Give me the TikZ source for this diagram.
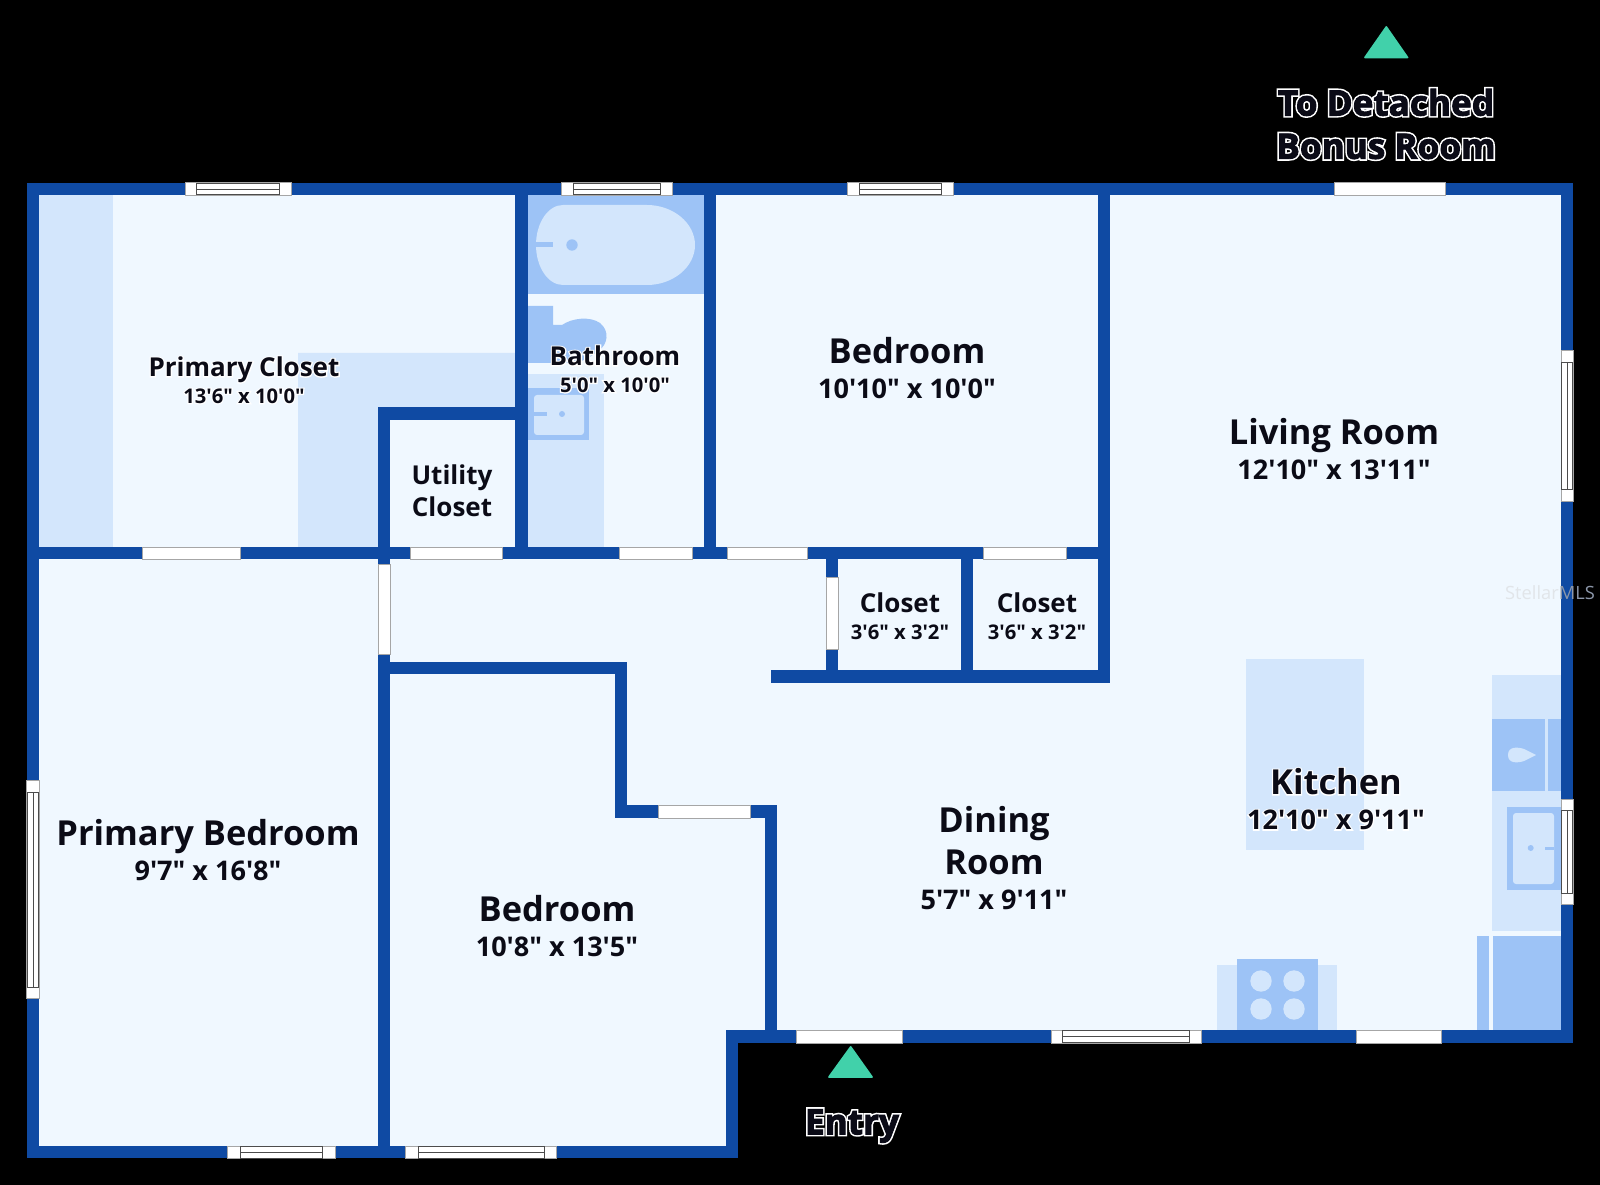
\documentclass[tikz,border=0pt]{standalone}
\usepackage{fontspec}
\newfontfamily\planfont{Open Sans}
\definecolor{wallblue}{HTML}{0F4AA3}
\definecolor{floorblue}{HTML}{F0F8FF}
\definecolor{palefix}{HTML}{D3E6FC}
\definecolor{midfix}{HTML}{9DC3F6}
\definecolor{markgreen}{HTML}{41D1AA}
\definecolor{inkdark}{HTML}{0B0B16}
\definecolor{stampfloor}{HTML}{E1E5E9}
\definecolor{stampdark}{HTML}{8C97AA}
\newcommand{\dimsize}{\fontsize{15.4}{20}\selectfont}
\newcommand{\dimsmall}{\fontsize{11.5}{15.3}\selectfont}
\newcommand{\outlined}[1]{\rlap{\special{pdf:code q 1 Tr 1 1 1 RG 2.3 w}#1\special{pdf:code Q}}\special{pdf:code q 2 Tr 0.04 0.04 0.09 RG 0.5 w}#1\special{pdf:code Q}}
\newcommand{\halo}[1]{\rlap{\special{pdf:code q 1 Tr 1 1 1 RG 1.4 w}#1\special{pdf:code Q}}#1}
\tikzset{
  wall/.style={draw=wallblue,line width=12.6*0.02cm,line cap=rect,miter limit=10},
  gapbox/.style={fill=white,draw=gray!70,line width=0.4pt},
  sash/.style={draw=black!70,line width=0.5pt},
  biglabel/.style={font=\planfont\bfseries\fontsize{19.6}{20}\selectfont,text=inkdark,align=center,inner sep=0pt},
  smalllabel/.style={font=\planfont\bfseries\fontsize{14.8}{15.3}\selectfont,text=inkdark,align=center,inner sep=0pt},
  outerlabel/.style={font=\planfont\bfseries\fontsize{20}{24.6}\selectfont,text=inkdark,align=center,inner sep=0pt},
  marker/.style={fill=markgreen,draw=markgreen,line width=1pt,line join=round}
}
\begin{document}
\begin{tikzpicture}[x=0.02cm,y=-0.02cm]
  \useasboundingbox (0,0) rectangle (1600,1185);
  \fill[black] (0,0) rectangle (1600,1185);
  \fill[floorblue] (33,189) -- (1567,189) -- (1567,1036) -- (732,1036) -- (732,1152) -- (33,1152) -- cycle;
  \begin{scope}[palefix]
    \fill (39,195) rectangle (113,547);
    \fill (298,353) -- (521,353) -- (521,413) -- (384,413) -- (384,547) -- (298,547) -- cycle;
    \fill (528,374) rectangle (604,547);
    \fill (1246,659) rectangle (1364,850);
    \fill (1492,675) rectangle (1561,931);
    \fill (1217,965) rectangle (1337,1030);
  \end{scope}
  \begin{scope}[midfix]
    \fill (528,195) rectangle (704,294);
    \fill (528,306) -- (553,306) -- (553,325) -- (562,325) .. controls (572,318) and (590,316) .. (600,323) .. controls (610,331) and (608,345) .. (598,351) .. controls (590,358) and (580,363) .. (570,363) -- (528,363) -- cycle;
    \fill (528,388) rectangle (589,440);
    \fill (1492,719) rectangle (1545,791);
    \fill (1548,719) rectangle (1561,791);
    \fill (1507,807) rectangle (1561,890);
    \fill (1477,936) rectangle (1489,1030);
    \fill (1493,936) rectangle (1561,1030);
    \fill (1237,959) rectangle (1318,1030);
  \end{scope}
  \begin{scope}[palefix]
    \fill (563,205) -- (647,205) .. controls (673,205) and (695,223) .. (695,245) .. controls (695,267) and (673,285) .. (647,285) -- (563,285) .. controls (548,285) and (536,267) .. (536,245) .. controls (536,223) and (548,205) .. (563,205) -- cycle;
    \fill[rounded corners=0.06cm] (534,395) rectangle (584,435);
    \fill[rounded corners=0.06cm] (1513,813) rectangle (1554,884);
    \fill (1508,755) .. controls (1508,746) and (1518,747) .. (1524,749) -- (1536,755) -- (1524,761) .. controls (1518,763) and (1508,764) .. (1508,755) -- cycle;
    \fill (1261,981) circle (0.214cm);
    \fill (1294,981) circle (0.214cm);
    \fill (1261,1009) circle (0.214cm);
    \fill (1294,1009) circle (0.214cm);
  \end{scope}
  \begin{scope}[midfix]
    \fill (536,242.4) rectangle (553,247);
    \fill (572,245) circle (0.114cm);
    \fill (534,412) rectangle (547,416);
    \fill (562,414) circle (0.06cm);
    \fill (1530.7,848) circle (0.06cm);
    \fill (1545,846.5) rectangle (1554,850);
  \end{scope}
  \draw[wall,line join=miter] (33,189) -- (1567,189) -- (1567,1036.5) -- (732,1036.5) -- (732,1152) -- (33,1152) -- cycle;
  \draw[wall] (33,553) -- (1104,553);
  \draw[wall] (521.7,189) -- (521.7,553);
  \draw[wall] (710,189) -- (710,553);
  \draw[wall] (1104,189) -- (1104,676.5) -- (777,676.5);
  \draw[wall] (521.7,413.3) -- (384,413.3) -- (384,1152);
  \draw[wall] (832,553) -- (832,676.5);
  \draw[wall] (967,553) -- (967,676.5);
  \draw[wall] (384,668) -- (621,668) -- (621,811.5) -- (771,811.5) -- (771,1036.5);
  \draw[gapbox] (142,547) rectangle (240,559.5);
  \draw[gapbox] (410.5,547) rectangle (502,559.5);
  \draw[gapbox] (619,547) rectangle (692,559.5);
  \draw[gapbox] (727,547) rectangle (807,559.5);
  \draw[gapbox] (983,547) rectangle (1066,559.5);
  \draw[gapbox] (378,564) rectangle (390,654);
  \draw[gapbox] (826,577) rectangle (838.5,649);
  \draw[gapbox] (658,805) rectangle (750,818);
  \draw[gapbox] (1334,182.7) rectangle (1445,195);
  \draw[gapbox] (796,1030) rectangle (902,1043);
  \draw[gapbox] (1356,1030) rectangle (1441,1043);
  \draw[gapbox] (185,182.7) rectangle (291,195);
  \draw[sash] (196,183) rectangle (279,194.7) (196,189) -- (279,189);
  \draw[gapbox] (561,182.7) rectangle (672,195);
  \draw[sash] (573,183) rectangle (660,194.7) (573,189) -- (660,189);
  \draw[gapbox] (847,182.7) rectangle (953,195);
  \draw[sash] (859,183) rectangle (941,194.7) (859,189) -- (941,189);
  \draw[gapbox] (26.7,780) rectangle (39,998);
  \draw[sash] (27,792) rectangle (38.7,987) (33,792) -- (33,987);
  \draw[gapbox] (1561,350) rectangle (1573,501);
  \draw[sash] (1561.3,362) rectangle (1572.7,489) (1567,362) -- (1567,489);
  \draw[gapbox] (1561,799) rectangle (1573,904);
  \draw[sash] (1561.3,810) rectangle (1572.7,893) (1567,810) -- (1567,893);
  \draw[gapbox] (227.5,1146) rectangle (335,1158.3);
  \draw[sash] (240,1146.3) rectangle (322,1158) (240,1152) -- (322,1152);
  \draw[gapbox] (405,1146) rectangle (556,1158.3);
  \draw[sash] (418,1146.3) rectangle (544,1158) (418,1152) -- (544,1152);
  \draw[gapbox] (1051,1030) rectangle (1201,1043);
  \draw[sash] (1062,1030.3) rectangle (1189,1042.7) (1062,1036.5) -- (1189,1036.5);
  \draw[marker] (1386.3,27) -- (1407.5,57.5) -- (1365,57.5) -- cycle;
  \draw[marker] (850.7,1047) -- (872,1077) -- (829,1077) -- cycle;
  \node[outerlabel] (bonus) at (1386,124) {\outlined{To Detached}\\\outlined{Bonus Room}};
  \node[outerlabel] (entry) at (852,1126) {\outlined{Entry}};
  \node[smalllabel] (primarycloset) at (244,380) {\halo{Primary Closet}\\{\dimsmall \halo{13'6" x 10'0"}}};
  \node[smalllabel] (utilitycloset) at (452,491) {Utility\\[3pt]Closet};
  \node[smalllabel] (bathroom) at (615,369) {\halo{Bathroom}\\{\dimsmall \halo{5'0" x 10'0"}}};
  \node[biglabel] (bedroomtop) at (907,368) {Bedroom\\{\dimsize 10'10" x 10'0"}};
  \node[biglabel] (livingroom) at (1334,449) {Living Room\\{\dimsize 12'10" x 13'11"}};
  \node[smalllabel] (closetleft) at (900,616) {Closet\\{\dimsmall 3'6" x 3'2"}};
  \node[smalllabel] (closetright) at (1037,616) {Closet\\{\dimsmall 3'6" x 3'2"}};
  \node[biglabel] (primarybedroom) at (208,850) {Primary Bedroom\\{\dimsize 9'7" x 16'8"}};
  \node[biglabel] (bedroomlow) at (557,926) {Bedroom\\{\dimsize 10'8" x 13'5"}};
  \node[biglabel] (diningroom) at (994,858) {Dining\\[3.8pt]Room\\{\dimsize 5'7" x 9'11"}};
  \node[biglabel] (kitchen) at (1336,799) {\halo{Kitchen}\\{\dimsize \halo{12'10" x 9'11"}}};
  \node[font=\planfont\fontsize{10.4}{12}\selectfont,inner sep=0pt] (stellar) at (1550,593) {\textcolor{stampfloor}{Stellar}\textcolor{stampdark}{ MLS}};
\end{tikzpicture}
\end{document}
